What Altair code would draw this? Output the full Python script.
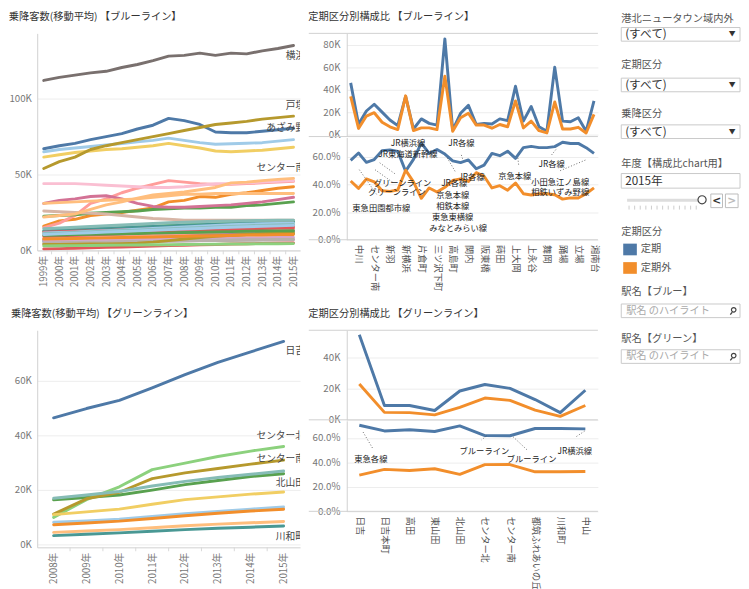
import altair as alt
import pandas as pd

FONT = "Noto Sans CJK JP"
BLUE, ORANGE = "#4E79A7", "#F28E2B"
TXT = "#333333"
AXC = "#777777"
GRID = "#ececec"
BORDER = "#d0d0d0"

kinds = ["定期", "定期外"]

# ---------------- ブルーライン ----------------
blue_stations = ["あざみ野", "中川", "センター北", "センター南", "仲町台", "新羽", "北新横浜", "新横浜",
                 "岸根公園", "片倉町", "三ツ沢上町", "三ツ沢下町", "横浜", "高島町", "桜木町", "関内",
                 "伊勢佐木長者町", "阪東橋", "吉野町", "蒔田", "弘明寺", "上大岡", "港南中央", "上永谷",
                 "下永谷", "舞岡", "戸塚", "踊場", "中田", "立場", "下飯田", "湘南台"]
blue_colors = ["#4E79A7", "#499894", "#F28E2B", "#FF9D9A", "#59A14F", "#8CD17D", "#B07AA1", "#F1CE63",
               "#D4A6C8", "#499894", "#E15759", "#BAB0AC", "#79706E", "#BAB0AC", "#D37295", "#FABFD2",
               "#FF9D9A", "#E15759", "#B6992D", "#D7B5A6", "#A0CBE8", "#A0CBE8", "#59A14F", "#FFBE7D",
               "#F28E2B", "#E15759", "#B6992D", "#86BCB6", "#A0CBE8", "#86BCB6", "#8CD17D", "#FFBE7D"]

# 2015年 定期 / 定期外 (千人)
teiki_blue = [46, 9.3, 21, 27, 20, 13, 8, 34, 5, 14, 10, 8.5, 85, 4, 19, 26,
              9, 10, 9.5, 14, 12.5, 43, 12, 25, 7, 3, 60, 12, 11.5, 15, 3, 30]
teikigai_blue = [34, 5.5, 16.5, 19.5, 11, 7, 4.5, 34.5, 3.6, 6, 6, 4.5, 52, 3, 15, 19,
                 8.5, 8.5, 5.7, 9, 7, 30, 6, 12, 3.5, 1.5, 29, 5, 5, 6.5, 1.5, 18]

years_blue = list(range(1999, 2016))
# 乗降客数(移動平均) 千人, 1999-2015
ma_azamino = [67, 69, 70.5, 73, 75, 77, 80, 82.5, 87, 85.5, 83, 78, 77.5, 77.5, 78.5, 79.5, 80.5]
ma_nakagawa = [6.2, 6.5, 6.8, 7.2, 7.5, 7.8, 8.1, 8.4, 8.8, 9.1, 9.4, 9.7, 10, 10.3, 10.6, 10.8, 11]
ma_center_kita = [16, 19.5, 20.5, 23, 24, 25, 26.5, 28, 32, 33, 35.5, 35, 37, 38, 39.5, 41, 42]
ma_center_minami = [15, 18, 23, 31, 34, 38, 41, 43.5, 46, 45, 44, 43.5, 43.5, 44, 44.5, 45, 45.5]
ma_nakamachidai = [22.5, 23, 23.5, 24.5, 25, 25.5, 26, 27, 27.5, 28, 28, 28.5, 28.5, 29.5, 30, 31, 32]
ma_nippa = [12.6, 13, 13.5, 14, 14.5, 15, 15.5, 16, 16.5, 17, 17.3, 17.6, 18, 18.3, 18.6, 18.8, 19]
ma_kita_shinyokohama = [7, 7.3, 7.6, 8, 8.4, 8.8, 9.2, 9.6, 10, 10.4, 10.8, 11.1, 11.4, 11.7, 12, 12.2, 12.5]
ma_shinyokohama = [61.5, 63, 64.5, 65.5, 66.5, 67, 68, 69, 70.5, 69, 67.5, 65.5, 65, 65.5, 66, 67, 68]
ma_kishinekoen = [6.5, 6.6, 6.7, 6.8, 6.9, 7, 7.2, 7.4, 7.6, 7.8, 8, 8.1, 8.2, 8.3, 8.4, 8.5, 8.6]
ma_katakuracho = [13, 13.4, 13.8, 14.2, 14.6, 15, 15.4, 15.8, 16.2, 16.6, 17, 17.3, 17.6, 17.9, 18.2, 18.5, 18.8]
ma_mitsuzawa_kami = [12, 12.3, 12.6, 12.9, 13.2, 13.5, 13.8, 14.1, 14.4, 14.7, 15, 15.2, 15.4, 15.6, 15.8, 15.9, 16]
ma_mitsuzawa_shimo = [5, 5.1, 5.2, 5.4, 5.5, 5.7, 5.9, 6, 6.2, 6.4, 6.6, 6.7, 6.9, 7, 7.1, 7.2, 7.3]
ma_yokohama = [112, 114, 115.5, 117, 118, 120.5, 122.5, 125, 128, 128.5, 130, 128.5, 130, 129.5, 131.5, 133, 135]
ma_takashimacho = [4.5, 4.6, 4.8, 5, 5.2, 5.4, 5.6, 5.8, 6, 6.2, 6.4, 6.5, 6.6, 6.7, 6.8, 6.9, 7]
ma_sakuragicho = [31, 33, 34, 35.5, 36, 34, 31, 29, 28.5, 28.5, 29, 29.5, 30, 31, 32, 33.5, 35]
ma_kannai = [44, 44, 44, 43.5, 43, 42.5, 42, 41.5, 41.5, 42, 43, 44, 44, 44.5, 45, 45.5, 46]
ma_isezaki = [8, 8.3, 8.6, 9, 9.3, 9.6, 10, 10.4, 10.8, 11.2, 11.6, 12, 12.4, 12.8, 13.2, 13.6, 14]
ma_bandobashi = [9.4, 9.7, 10, 10.3, 10.6, 11, 11.4, 11.8, 12.2, 12.6, 13, 13.4, 13.8, 14.2, 14.5, 14.8, 15]
ma_yoshinocho = [4, 4, 4.1, 4.2, 4.3, 4.5, 4.8, 5.5, 6.5, 7.5, 8.5, 9.3, 10, 10.5, 11, 11.3, 11.5]
ma_maita = [26, 25.5, 25, 24.5, 24, 23, 22, 21, 20.5, 20, 20, 20, 20, 20, 20, 20, 20]
ma_gumyoji = [11.5, 11.8, 12.2, 12.6, 13, 13.5, 14, 14.5, 15, 15.5, 16, 16.5, 17, 17.3, 17.6, 17.8, 18]
ma_kamiooka = [65, 66.5, 67.5, 68.5, 69.5, 70.5, 71.5, 72.5, 74, 72.5, 71, 70, 70.3, 70.6, 71, 72, 73]
ma_konan_chuo = [10, 10.2, 10.4, 10.6, 10.8, 11, 11.2, 11.4, 11.6, 11.8, 12, 12.2, 12.4, 12.6, 12.8, 12.9, 13]
ma_kaminagaya = [31, 31.5, 32, 32.5, 33, 33.5, 34, 35, 36, 37, 37, 37.5, 37.5, 37.5, 37.5, 37.5, 37.5]
ma_shimonagaya = [7.5, 7.7, 7.9, 8.1, 8.3, 8.5, 8.7, 8.9, 9.1, 9.3, 9.5, 9.7, 9.9, 10.1, 10.2, 10.4, 10.5]
ma_maioka = [1, 1.2, 1.5, 1.8, 2, 2.3, 2.6, 2.9, 3.2, 3.4, 3.7, 3.9, 4.2, 4.4, 4.6, 4.8, 5]
ma_totsuka = [54, 58.5, 61.5, 66.5, 69, 71, 73, 75, 77, 79, 81, 83, 84, 85, 86.5, 87.5, 88.5]
ma_odoriba = [11, 11.4, 11.8, 12.2, 12.6, 13, 13.4, 13.8, 14.2, 14.6, 15, 15.4, 15.8, 16.2, 16.5, 16.8, 17]
ma_nakada = [10.5, 10.9, 11.3, 11.7, 12.1, 12.5, 12.9, 13.3, 13.7, 14.1, 14.5, 14.9, 15.3, 15.6, 15.9, 16.2, 16.5]
ma_tateba = [14.3, 14.8, 15.3, 15.8, 16.3, 16.8, 17.3, 17.8, 18.3, 18.6, 18.9, 19.2, 19.4, 19.6, 19.8, 19.9, 20]
ma_shimoiida = [3, 3.1, 3.2, 3.3, 3.4, 3.5, 3.6, 3.7, 3.8, 3.9, 4, 4.1, 4.2, 4.3, 4.4, 4.45, 4.5]
ma_shonandai = [22, 23, 24, 27, 30, 32, 34.5, 36.5, 37.5, 38.5, 40, 41.5, 44.5, 45, 46, 46.8, 47.5]

blue_ma = [ma_azamino, ma_nakagawa, ma_center_kita, ma_center_minami, ma_nakamachidai, ma_nippa,
           ma_kita_shinyokohama, ma_shinyokohama, ma_kishinekoen, ma_katakuracho, ma_mitsuzawa_kami,
           ma_mitsuzawa_shimo, ma_yokohama, ma_takashimacho, ma_sakuragicho, ma_kannai, ma_isezaki,
           ma_bandobashi, ma_yoshinocho, ma_maita, ma_gumyoji, ma_kamiooka, ma_konan_chuo,
           ma_kaminagaya, ma_shimonagaya, ma_maioka, ma_totsuka, ma_odoriba, ma_nakada, ma_tateba,
           ma_shimoiida, ma_shonandai]

# ---------------- グリーンライン ----------------
green_stations = ["日吉", "日吉本町", "高田", "東山田", "北山田", "センター北", "センター南",
                  "都筑ふれあいの丘", "川和町", "中山"]
green_colors = ["#4E79A7", "#A0CBE8", "#F28E2B", "#FFBE7D", "#59A14F", "#8CD17D", "#B6992D",
                "#F1CE63", "#499894", "#86BCB6"]
teiki_green = [54.6, 9.2, 9.2, 6, 18.5, 22.7, 20.2, 13, 4.6, 19]
teikigai_green = [23, 4.8, 4.6, 3.2, 8, 14, 12.5, 6.2, 2.2, 9.2]

years_green = list(range(2008, 2016))
gm_hiyoshi = [46.5, 49.9, 52.9, 57.5, 62.3, 66.8, 70.7, 74.5]
gm_hiyoshi_honcho = [8.2, 8.7, 9.3, 10.3, 11.3, 12.2, 13, 13.8]
gm_takata = [7.3, 7.9, 8.6, 9.6, 10.6, 11.5, 12.3, 13]
gm_higashi_yamata = [4.5, 5, 5.5, 6.2, 6.9, 7.5, 8, 8.5]
gm_kita_yamata = [16.4, 17.3, 18.2, 20, 22, 23.5, 25, 26]
gm_center_kita = [10, 16.5, 21.2, 27.5, 29.9, 32.3, 34.3, 36]
gm_center_minami = [11.2, 16.8, 19.2, 24.2, 26.3, 27.9, 29.5, 31]
gm_tsuzuki = [11, 12, 13, 14.8, 16.5, 17.5, 18.5, 19.3]
gm_kawawacho = [3.3, 3.8, 4.3, 4.9, 5.5, 6, 6.4, 6.8]
gm_nakayama = [17, 18.2, 19.5, 21.5, 23.2, 24.6, 25.8, 27]
green_ma = [gm_hiyoshi, gm_hiyoshi_honcho, gm_takata, gm_higashi_yamata, gm_kita_yamata,
            gm_center_kita, gm_center_minami, gm_tsuzuki, gm_kawawacho, gm_nakayama]

# 乗換路線の注記 (テキスト, 駅位置, 比率)
annot_blue = [("JR横浜線", 7.3, 0.70), ("JR各線", 14.1, 0.70), ("JR東海道新幹線", 7.3, 0.621),
              ("JR各線", 15.4, 0.457), ("JR各線", 25.6, 0.55), ("京急本線", 20.9, 0.464),
              ("小田急江ノ島線", 26.7, 0.421), ("相鉄いずみ野線", 26.7, 0.343),
              ("グリーンライン", 6.6, 0.407), ("グリーンライン", 5.9, 0.343), ("JR各線", 13.2, 0.407),
              ("京急本線", 13.0, 0.321), ("相鉄本線", 13.0, 0.243), ("東急東横線", 13.0, 0.164),
              ("みなとみらい線", 13.7, 0.086), ("東急田園都市線", 3.9, 0.229)]
leaders_blue = [(1.1, .507, 3.3, .329), (3.1, .507, 5.4, .414), (3.7, .557, 5.8, .471),
                (12.3, .593, 13.4, .486), (14.1, .614, 14.3, .579), (21.3, .593, 21.4, .543),
                (25.6, .614, 26.3, .664), (26.7, .50, 30, .579)]
annot_green = [("東急各線", 0.46, 0.424), ("ブルーライン", 4.98, 0.496), ("ブルーライン", 6.86, 0.424),
               ("JR横浜線", 8.58, 0.496)]
leaders_green = [(0.15, .648, 0.54, .512), (5.06, .616, 4.87, .584), (6.13, .608, 6.67, .504),
                 (8.97, .656, 8.62, .608)]


# ---------------- helpers ----------------
def ma_frame(stations, years, series):
    rows = []
    for name, vals in zip(stations, series):
        for y, v in zip(years, vals):
            rows.append({"station": name, "year": y, "value": v * 1000})
    return pd.DataFrame(rows)


def ratio_frame(stations, teiki, teikigai):
    rows = []
    for i, name in enumerate(stations):
        rows.append({"station": name, "idx": i, "kind": kinds[0], "count": teiki[i] * 1000})
        rows.append({"station": name, "idx": i, "kind": kinds[1], "count": teikigai[i] * 1000})
    return pd.DataFrame(rows)


KEXPR = "datum.value/1000 + 'K'"


def y_axis(values, extent, pad, **kw):
    return alt.Axis(values=values, title=None, grid=True, gridColor=GRID, ticks=False, domain=True,
                    domainColor=BORDER, labelPadding=pad, minExtent=extent, maxExtent=extent,
                    labelFontSize=10, labelColor=AXC, **kw)


def trend_chart(stations, colors, years, series, ydom, yvals, labels, label_dx, title, width, height, pad):
    df = ma_frame(stations, years, series)
    xs = alt.Scale(domain=[years[0] - pad, years[-1] + pad], nice=False, zero=False)
    ys = alt.Scale(domain=ydom, nice=False, zero=False)
    xax = alt.Axis(values=years, labelExpr="datum.value + '年'", labelAngle=270, title=None, grid=False,
                   ticks=False, domain=True, domainColor=BORDER, labelPadding=5, labelFontSize=10,
                   labelColor=AXC)
    yax = y_axis(yvals, 27, 6, labelExpr=KEXPR)
    lines = alt.Chart(df).mark_line(strokeWidth=3, clip=True, strokeCap="round", strokeJoin="round").encode(
        x=alt.X("year:Q", scale=xs, axis=xax),
        y=alt.Y("value:Q", scale=ys, axis=yax),
        color=alt.Color("station:N", scale=alt.Scale(domain=stations, range=colors), legend=None),
        detail="station:N",
    )
    # separator ticks between year categories on the x axis
    sep = pd.DataFrame({"b": [y + 0.5 for y in years[:-1]]})
    seps = alt.Chart(sep).mark_rule(color="#d8d8d8", strokeWidth=1).encode(
        x=alt.X("b:Q", scale=xs, axis=xax), y=alt.value(height), y2=alt.value(height + 4))
    layers = [lines, seps]
    for name, dy in labels:
        layers.append(
            alt.Chart(df).transform_filter(f"datum.station == '{name}' && datum.year == {years[-1]}")
            .mark_text(align="right", baseline="middle", dx=label_dx, dy=dy, fontSize=10, color="#444",
                       font=FONT, clip=True)
            .encode(x=alt.X("year:Q", scale=xs, axis=xax), y=alt.Y("value:Q", scale=ys, axis=yax),
                    text="station:N")
        )
    return alt.layer(*layers).properties(width=width, height=height, title=title)


def hline(width, at_bottom, height):
    d = pd.DataFrame({"z": [0]})
    return alt.Chart(d).mark_rule(color=BORDER, strokeWidth=1).encode(
        x=alt.value(-39), x2=alt.value(width), y=alt.value(height if at_bottom else 0))


def ratio_parts(stations, teiki, teikigai, cdom, cvals, h_up, h_low, annots, leaders, label_vals,
                title, width):
    df = ratio_frame(stations, teiki, teikigai)
    n = len(stations)
    xs = alt.Scale(domain=[-0.5, n - 0.5], nice=False, zero=False)
    col = alt.Color("kind:N", scale=alt.Scale(domain=kinds, range=[BLUE, ORANGE]), legend=None)
    cs = alt.Scale(domain=cdom, nice=False, zero=False)
    up_lines = alt.Chart(df).mark_line(strokeWidth=3, strokeJoin="round").encode(
        x=alt.X("idx:Q", scale=xs, axis=None),
        y=alt.Y("count:Q", scale=cs, axis=y_axis(cvals, 34, 7, labelExpr=KEXPR)),
        color=col, detail="kind:N",
    )
    upper = alt.layer(hline(width, False, h_up), hline(width, True, h_up), up_lines).properties(
        width=width, height=h_up, title=title)

    ps = alt.Scale(domain=[0, 0.74], nice=False, zero=False)
    names_js = "[" + ",".join("'" + s + "'" for s in stations) + "]"
    xax = alt.Axis(values=label_vals, labelExpr=names_js + "[datum.value]", labelAngle=90, title=None,
                   grid=False, ticks=False, domain=False, labelPadding=5, labelFontSize=9.5, labelColor="#555")
    yax = y_axis([0, 0.2, 0.4, 0.6], 34, 7, format=".1%")
    low_lines = alt.Chart(df).transform_joinaggregate(total="sum(count)", groupby=["station"]).transform_calculate(
        pct="datum.count / datum.total").mark_line(strokeWidth=3, strokeJoin="round").encode(
        x=alt.X("idx:Q", scale=xs, axis=xax),
        y=alt.Y("pct:Q", scale=ps, axis=yax),
        color=col, detail="kind:N",
    )
    adf = pd.DataFrame(annots, columns=["t", "i", "p"])
    ldf = pd.DataFrame(leaders, columns=["i", "p", "i2", "p2"])
    lead = alt.Chart(ldf).mark_rule(color="#444", strokeWidth=0.8, strokeDash=[1, 2]).encode(
        x=alt.X("i:Q", scale=xs, axis=xax), x2="i2:Q",
        y=alt.Y("p:Q", scale=ps, axis=yax), y2="p2:Q")
    ann = alt.Chart(adf).mark_text(fontSize=8.5, color="#222", font=FONT, baseline="middle").encode(
        x=alt.X("i:Q", scale=xs, axis=xax), y=alt.Y("p:Q", scale=ps, axis=yax), text="t:N")
    lower = alt.layer(low_lines, hline(width, True, h_low), lead, ann).properties(width=width, height=h_low)
    return upper, lower


# ---------------- panels ----------------
W1, W2 = 270, 258
tl = trend_chart(blue_stations, blue_colors, years_blue, blue_ma, [0, 143000], [0, 50000, 100000],
                 [("横浜", 11), ("戸塚", -10), ("あざみ野", 0), ("センター南", -14)], 12,
                 "乗降客数(移動平均) 【ブルーライン】", W1, 223, 0.42)
bl = trend_chart(green_stations, green_colors, years_green, green_ma, [-1000, 78600], [0, 20000, 40000, 60000],
                 [("日吉", 10), ("センター北", -11), ("センター南", -1), ("北山田", 10), ("川和町", 11)], 22,
                 "乗降客数(移動平均) 【グリーンライン】", W1, 223, 0.5)
col1 = alt.vconcat(tl, bl, spacing=82, bounds="flush").resolve_scale(color="independent")

tru, trl = ratio_parts(blue_stations, teiki_blue, teikigai_blue, [-1700, 90000], [0, 20000, 40000, 60000, 80000],
                       106, 105, annot_blue, leaders_blue, list(range(1, 32, 2)),
                       "定期区分別構成比 【ブルーライン】", W2)
bru, brl = ratio_parts(green_stations, teiki_green, teikigai_green, [0, 57500], [0, 20000, 40000],
                       92, 93, annot_green, leaders_green, list(range(10)),
                       "定期区分別構成比 【グリーンライン】", W2)
spacer = alt.Chart(pd.DataFrame({"z": [0]})).mark_point(opacity=0).encode(
    x=alt.value(0), y=alt.value(0)).properties(width=W2, height=91)
col2 = alt.vconcat(tru, trl, spacer, bru, brl, spacing=1, bounds="flush").resolve_scale(color="independent")

# ---------------- sidebar (filters / legend) ----------------
SB_TOP, SB_H = 30, 520
SB_X0, SB_W = 620, 125
SY = 1
sx = alt.Scale(domain=[SB_X0, SB_X0 + SB_W], nice=False, zero=False)
sy = alt.Scale(domain=[SB_TOP + SB_H, SB_TOP], nice=False, zero=False)


def X(f="x"):
    return alt.X(f + ":Q", scale=sx, axis=None)


def Y(f="y"):
    return alt.Y(f + ":Q", scale=sy, axis=None)


anchor_df = pd.DataFrame({"x": [SB_X0], "x2": [SB_X0 + SB_W], "y": [SB_TOP], "y2": [SB_TOP + 1]})
lab_df = pd.DataFrame({
    "t": ["港北ニュータウン域内外", "定期区分", "乗降区分", "年度【構成比chart用】", "定期区分", "駅名【ブルー】", "駅名【グリーン】"],
    "x": [623] * 7,
    "y": [v + SY for v in [14, 62, 112, 163, 233, 295, 343]]})
box_df = pd.DataFrame({
    "x": [623] * 6, "x2": [745] * 6,
    "y": [v + SY for v in [23, 75, 123, 173, 307, 354]],
    "y2": [v + SY for v in [37, 89, 137, 188, 321, 368]]})
val_df = pd.DataFrame({"t": ["(すべて)", "(すべて)", "(すべて)", "2015年"], "x": [627] * 4,
                       "y": [v + SY for v in [30, 82, 130, 181]]})
arr_df = pd.DataFrame({"t": ["▼"] * 3, "x": [737] * 3, "y": [v + SY for v in [30, 82, 130]]})
ph_df = pd.DataFrame({"t": ["駅名 のハイライト"] * 2, "x": [628] * 2, "y": [314 + SY, 361 + SY]})
leg_df = pd.DataFrame({"kind": kinds, "x": [625, 625], "x2": [639, 639],
                       "y": [245 + SY, 264 + SY], "y2": [257 + SY, 276 + SY], "tx": [643, 643],
                       "ty": [251 + SY, 270 + SY]})
track_df = pd.DataFrame({"x": [629], "x2": [702], "y": [199 + SY], "y2": [202 + SY]})
btn_df = pd.DataFrame({"x": [715, 730], "x2": [727, 743], "y": [194 + SY] * 2, "y2": [208 + SY] * 2})
tick_df = pd.DataFrame({"x": [631 + 5.75 * k for k in range(13)], "y": [206 + SY] * 13, "y2": [210 + SY] * 13})
knob_df = pd.DataFrame({"x": [706], "y": [200 + SY]})
btn_t_df = pd.DataFrame({"t": ["<", ">"], "x": [721, 736.5], "y": [201 + SY] * 2, "c": ["a", "b"]})
mag_df = pd.DataFrame({"x": [738.5, 738.5], "y": [313 + SY, 360 + SY]})
magl_df = pd.DataFrame({"x": [735, 735], "x2": [737, 737], "y": [318 + SY, 365 + SY], "y2": [315.5 + SY, 362.5 + SY]})

sb_layers = [
    alt.Chart(anchor_df).mark_rect(opacity=0).encode(x=X(), x2="x2:Q", y=Y(), y2="y2:Q"),
    alt.Chart(box_df).mark_rect(fill="white", stroke="#c8c8c8", strokeWidth=1).encode(
        x=X(), x2="x2:Q", y=Y(), y2="y2:Q"),
    alt.Chart(lab_df).mark_text(align="left", baseline="middle", fontSize=10.5, color="#555", font=FONT).encode(
        x=X(), y=Y(), text="t:N"),
    alt.Chart(val_df).mark_text(align="left", baseline="middle", fontSize=12, color=TXT, font=FONT).encode(
        x=X(), y=Y(), text="t:N"),
    alt.Chart(arr_df).mark_text(align="center", baseline="middle", fontSize=7, color=TXT, font=FONT).encode(
        x=X(), y=Y(), text="t:N"),
    alt.Chart(ph_df).mark_text(align="left", baseline="middle", fontSize=10.5, color="#aaaaaa", font=FONT).encode(
        x=X(), y=Y(), text="t:N"),
    alt.Chart(leg_df).mark_rect().encode(
        x=X(), x2="x2:Q", y=Y(), y2="y2:Q",
        color=alt.Color("kind:N", scale=alt.Scale(domain=kinds, range=[BLUE, ORANGE]), legend=None)),
    alt.Chart(leg_df).mark_text(align="left", baseline="middle", fontSize=10.5, color="#555", font=FONT).encode(
        x=X("tx"), y=Y("ty"), text="kind:N"),
    alt.Chart(track_df).mark_rect(fill="#dddddd").encode(x=X(), x2="x2:Q", y=Y(), y2="y2:Q"),
    alt.Chart(tick_df).mark_rule(color="#cccccc", strokeWidth=1).encode(x=X(), y=Y(), y2="y2:Q"),
    alt.Chart(knob_df).mark_point(shape="circle", size=70, filled=True, fill="white", stroke="#444",
                                  strokeWidth=1.2, opacity=1).encode(x=X(), y=Y()),
    alt.Chart(btn_df).mark_rect(fill="white", stroke="#bbbbbb", strokeWidth=1).encode(
        x=X(), x2="x2:Q", y=Y(), y2="y2:Q"),
    alt.Chart(btn_t_df).mark_text(align="center", baseline="middle", fontSize=11, fontWeight="bold",
                                  font="DejaVu Sans").encode(
        x=X(), y=Y(), text="t:N",
        color=alt.Color("c:N", scale=alt.Scale(domain=["a", "b"], range=["#333333", "#bbbbbb"]), legend=None)),
    alt.Chart(mag_df).mark_point(shape="circle", size=22, stroke="#444", strokeWidth=1.2, filled=False,
                                 opacity=1).encode(x=X(), y=Y()),
    alt.Chart(magl_df).mark_rule(color="#444", strokeWidth=1.3).encode(x=X(), x2="x2:Q", y=Y(), y2="y2:Q"),
]
sidebar = alt.layer(*sb_layers).resolve_scale(color="independent").properties(width=SB_W, height=SB_H)

inner = alt.hconcat(col1, col2, spacing=8).resolve_scale(color="independent")
chart = alt.hconcat(inner, sidebar, spacing=20).resolve_scale(color="independent").properties(
    padding={"top": -4, "left": 0, "right": 0, "bottom": 0}
).configure_view(stroke=None).configure_title(
    font=FONT, fontSize=10.5, color=TXT, fontWeight="normal", anchor="start", frame="bounds", offset=11
).configure_axis(labelFont=FONT).configure_text(font=FONT)

chart.save("out.html", embed_options={"renderer": "svg", "actions": False})
